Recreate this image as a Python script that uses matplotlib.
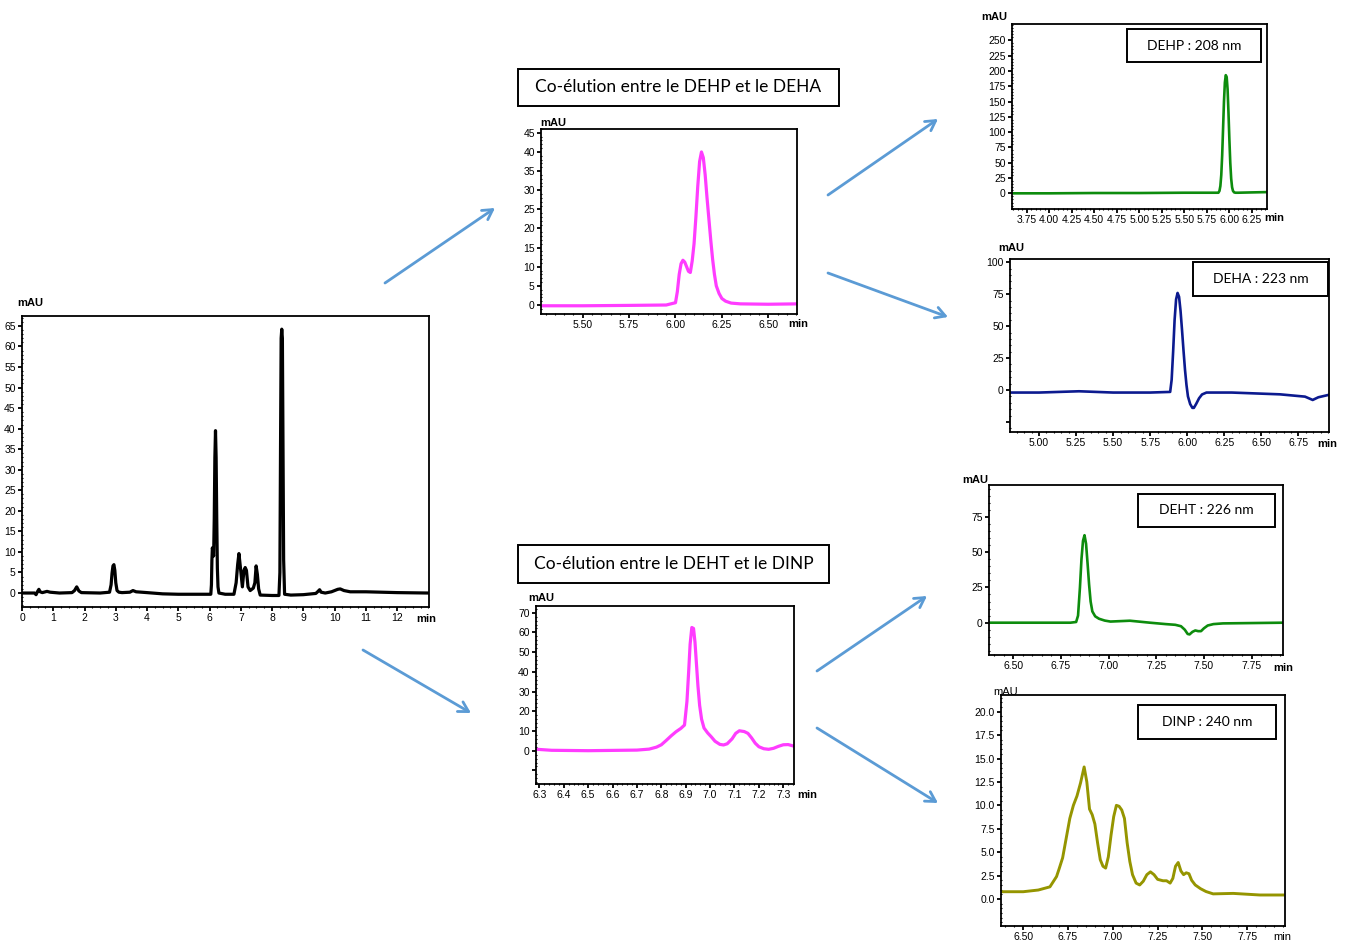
import matplotlib
matplotlib.use("Agg")
import matplotlib.pyplot as plt
from matplotlib.patches import Rectangle, FancyArrowPatch
from matplotlib.ticker import AutoMinorLocator

plt.rcParams["font.family"] = ["Liberation Sans Narrow", "Liberation Sans", "DejaVu Sans"]

# ---- data (time in min, signal in mAU) ----
main_t = [0.00, 0.40, 0.45, 0.50, 0.54, 0.58, 0.65, 0.80, 0.90, 1.20, 1.60, 1.68, 1.75, 1.82, 1.90,
          2.50, 2.80, 2.85, 2.88, 2.91, 2.94, 2.97, 3.00, 3.04, 3.10, 3.20, 3.45, 3.55, 3.65, 4.00,
          4.50, 5.00, 5.50, 6.04, 6.06, 6.075, 6.09, 6.11, 6.13, 6.15, 6.17, 6.19, 6.21, 6.23, 6.25,
          6.27, 6.30, 6.50, 6.78, 6.85, 6.90, 6.94, 6.99, 7.05, 7.10, 7.14, 7.18, 7.23, 7.30, 7.40,
          7.45, 7.49, 7.53, 7.57, 7.62, 8.00, 8.22, 8.25, 8.27, 8.29, 8.31, 8.33, 8.35, 8.37, 8.40,
          8.60, 9.00, 9.40, 9.47, 9.52, 9.57, 9.70, 9.90, 10.10, 10.18, 10.30, 10.50, 11.00, 12.00,
          13.00]
main_v = [0.0, 0.0, -0.4, 0.4, 0.9, 0.3, 0.1, 0.4, 0.2, 0.0, 0.1, 0.6, 1.5, 0.5, 0.1,
          0.0, 0.2, 2.0, 4.8, 6.6, 6.9, 5.5, 2.5, 0.6, 0.2, 0.1, 0.2, 0.6, 0.3, 0.1,
          -0.2, -0.3, -0.3, -0.3, 2.0, 8.0, 11.0, 10.0, 9.0, 18.0, 33.0, 39.5, 33.0, 18.0, 6.0,
          1.5, 0.0, -0.3, -0.3, 2.5, 7.0, 9.6, 6.0, 1.5, 5.5, 6.2, 5.5, 1.5, 0.6, 1.2,
          2.5, 6.6, 4.5, 1.0, -0.5, -0.6, -0.6, 5.0, 35.0, 62.0, 64.2, 62.0, 35.0, 8.0, -0.3,
          -0.5, -0.4, -0.1, 0.4, 0.8, 0.2, 0.0, 0.3, 0.9, 1.0, 0.6, 0.3, 0.3, 0.1,
          0.0]

dehp_deha_t = [5.27, 5.50, 5.75, 5.95, 6.00, 6.01, 6.02, 6.03, 6.04, 6.05, 6.06, 6.07, 6.08, 6.09,
               6.10, 6.11, 6.12, 6.13, 6.14, 6.15, 6.16, 6.17, 6.18, 6.19, 6.20, 6.21, 6.22, 6.235,
               6.25, 6.27, 6.30, 6.35, 6.50, 6.66]
dehp_deha_v = [-0.2, -0.2, -0.1, 0.0, 0.6, 3.5, 8.0, 10.8, 11.7, 11.2, 10.0, 8.8, 8.5, 11.5,
               16.0, 23.0, 31.0, 37.5, 40.0, 38.5, 34.0, 28.0, 22.5, 17.0, 12.0, 8.0, 5.0, 3.0,
               1.7, 1.0, 0.5, 0.3, 0.2, 0.3]

deht_dinp_t = [6.29, 6.35, 6.50, 6.70, 6.75, 6.78, 6.80, 6.82, 6.84, 6.86, 6.88, 6.895, 6.905, 6.912,
               6.918, 6.925, 6.932, 6.938, 6.944, 6.95, 6.957, 6.965, 6.975, 6.99, 7.005, 7.02,
               7.04, 7.055, 7.07, 7.09, 7.105, 7.12, 7.14, 7.155, 7.17, 7.185, 7.20, 7.22, 7.24,
               7.26, 7.28, 7.30, 7.32, 7.341]
deht_dinp_v = [0.7, 0.2, 0.0, 0.3, 0.8, 1.8, 3.0, 5.2, 7.5, 9.6, 11.3, 13.0, 25.0, 40.0,
               54.0, 62.5, 62.0, 55.0, 44.0, 33.0, 23.0, 16.0, 11.5, 9.0, 7.0, 4.8,
               3.2, 2.9, 3.5, 6.0, 8.8, 10.1, 9.7, 8.8, 6.5, 3.8, 2.0, 1.0, 0.7,
               1.2, 2.2, 3.0, 3.1, 2.4]

dehp_t = [3.59, 4.00, 4.50, 5.00, 5.50, 5.88, 5.892, 5.902, 5.912, 5.922, 5.932, 5.942, 5.952,
          5.962, 5.972, 5.982, 5.992, 6.002, 6.012, 6.022, 6.032, 6.042, 6.055, 6.07, 6.10, 6.25,
          6.42]
dehp_v = [0.0, 0.0, 0.5, 0.5, 1.0, 1.0, 4.0, 12.0, 30.0, 62.0, 106.0, 150.0, 181.0,
          193.0, 190.0, 170.0, 132.0, 88.0, 50.0, 24.0, 10.0, 4.0, 1.5, 1.0, 1.0, 1.5,
          2.0]

deha_t = [4.80, 5.00, 5.27, 5.50, 5.75, 5.885, 5.895, 5.905, 5.915, 5.925, 5.935, 5.945, 5.955,
          5.965, 5.975, 5.985, 5.995, 6.005, 6.02, 6.035, 6.045, 6.06, 6.08, 6.10, 6.13, 6.30,
          6.626, 6.795, 6.847, 6.885, 6.952]
deha_v = [-2.0, -2.0, -1.0, -2.0, -2.0, -1.5, 8.0, 30.0, 55.0, 71.0, 76.0, 73.0, 62.0,
          47.0, 31.0, 16.0, 4.0, -5.0, -11.0, -14.0, -14.0, -11.0, -6.5, -3.5, -2.0, -2.0,
          -3.4, -5.2, -7.8, -5.7, -3.9]

deht_t = [6.373, 6.60, 6.80, 6.83, 6.84, 6.85, 6.858, 6.866, 6.874, 6.882, 6.89, 6.898, 6.906,
          6.915, 6.93, 6.95, 6.98, 7.01, 7.112, 7.217, 7.30, 7.35, 7.38, 7.40, 7.415, 7.425,
          7.44, 7.455, 7.47, 7.485, 7.50, 7.52, 7.55, 7.60, 7.915]
deht_v = [0.0, 0.0, 0.0, 0.5, 5.0, 25.0, 45.0, 58.0, 62.0, 56.0, 42.0, 27.0, 15.0,
          8.0, 4.5, 2.8, 1.5, 0.8, 1.4, 0.0, -1.0, -1.5, -2.5, -5.0, -8.0, -8.3,
          -6.5, -5.5, -6.0, -6.0, -4.0, -2.0, -1.0, -0.5, 0.0]

dinp_t = [6.376, 6.50, 6.584, 6.649, 6.686, 6.70, 6.72, 6.74, 6.76, 6.78, 6.80, 6.82, 6.84, 6.855,
          6.87, 6.885, 6.90, 6.915, 6.93, 6.945, 6.96, 6.975, 6.99, 7.005, 7.02, 7.035, 7.05,
          7.065, 7.08, 7.095, 7.11, 7.13, 7.15, 7.17, 7.19, 7.21, 7.23, 7.25, 7.28, 7.30, 7.32,
          7.335, 7.35, 7.365, 7.38, 7.395, 7.41, 7.425, 7.44, 7.46, 7.49, 7.52, 7.56, 7.672,
          7.821, 7.951]
dinp_v = [0.78, 0.78, 0.96, 1.3, 2.4, 3.2, 4.4, 6.5, 8.6, 10.0, 11.0, 12.4, 14.1, 12.5,
          9.6, 9.0, 8.0, 6.0, 4.2, 3.5, 3.3, 4.5, 6.8, 8.8, 10.0, 9.9, 9.5,
          8.6, 6.0, 4.0, 2.6, 1.7, 1.5, 1.9, 2.6, 2.9, 2.6, 2.1, 1.95, 1.95, 1.7,
          2.2, 3.5, 3.9, 3.0, 2.6, 2.8, 2.7, 2.0, 1.5, 1.1, 0.8, 0.55, 0.6,
          0.43, 0.43]

main_xticks = list(range(0, 13))
main_yticks = list(range(0, 70, 5))
dehp_deha_xticks = [5.50, 5.75, 6.00, 6.25, 6.50]
dehp_deha_yticks = list(range(0, 50, 5))
deht_dinp_xticks = [6.3, 6.4, 6.5, 6.6, 6.7, 6.8, 6.9, 7.0, 7.1, 7.2, 7.3]
deht_dinp_yticks = [-10, 0, 10, 20, 30, 40, 50, 60, 70]
dehp_xticks = [3.75, 4.00, 4.25, 4.50, 4.75, 5.00, 5.25, 5.50, 5.75, 6.00, 6.25]
dehp_yticks = list(range(0, 275, 25))
deha_xticks = [5.00, 5.25, 5.50, 5.75, 6.00, 6.25, 6.50, 6.75]
deha_yticks = [-25, 0, 25, 50, 75, 100]
deht_xticks = [6.50, 6.75, 7.00, 7.25, 7.50, 7.75]
deht_yticks = [0, 25, 50, 75]
dinp_xticks = [6.50, 6.75, 7.00, 7.25, 7.50, 7.75]
dinp_yticks = [0.0, 2.5, 5.0, 7.5, 10.0, 12.5, 15.0, 17.5, 20.0]

W, H = 1349, 941
fig = plt.figure(figsize=(W / 100, H / 100), dpi=100)


def fx(x):
    return x / W


def fy(y):
    return 1 - y / H


def panel(box, xlim, ylim, xticks, yticks, xfmt, yfmt, hide_y=()):
    l, t, r, b = box
    ax = fig.add_axes([fx(l), fy(b), (r - l) / W, (b - t) / H])
    ax.set_xlim(*xlim)
    ax.set_ylim(*ylim)
    ax.set_xticks(xticks)
    ax.set_xticklabels([xfmt % v for v in xticks])
    ax.set_yticks(yticks)
    ax.set_yticklabels(["" if v in hide_y else yfmt % v for v in yticks])
    ax.xaxis.set_minor_locator(AutoMinorLocator(5))
    ax.yaxis.set_minor_locator(AutoMinorLocator(5))
    ax.tick_params(which="major", direction="out", length=3, width=1.3, labelsize=7.5, pad=1.5)
    ax.tick_params(which="minor", direction="inout", length=2, width=0.8)
    for s in ax.spines.values():
        s.set_linewidth(1.3)
    return ax


def unit_labels(mau_xy, min_xy, bold=True):
    w = "bold" if bold else "normal"
    fig.text(fx(mau_xy[0]), fy(mau_xy[1]), "mAU", fontsize=8, fontweight=w, ha="left", va="center")
    fig.text(fx(min_xy[0]), fy(min_xy[1]), "min", fontsize=8, fontweight=w, ha="left", va="center")


def boxed(box, text, size):
    l, t, r, b = box
    fig.add_artist(Rectangle((fx(l), fy(b)), (r - l) / W, (b - t) / H, transform=fig.transFigure,
                             fill=False, edgecolor="black", linewidth=1.4))
    fig.text(fx((l + r) / 2), fy((t + b) / 2), text, fontsize=size, family="Lato",
             ha="center", va="center")


# main chromatogram
ax = panel((22, 316, 429, 607), (0, 13.02), (-3.4, 67.4), main_xticks, main_yticks, "%d", "%d")
ax.plot(main_t, main_v, color="black", lw=2.3)
ax.xaxis.set_minor_locator(AutoMinorLocator(4))
unit_labels((17, 303), (416, 619))

# co-elution DEHP / DEHA
ax = panel((541, 129, 797, 314), (5.275, 6.655), (-2.35, 46.0), dehp_deha_xticks, dehp_deha_yticks,
           "%.2f", "%d")
ax.plot(dehp_deha_t, dehp_deha_v, color="#ff3cff", lw=2.3)
unit_labels((540, 123), (788, 324))
boxed((518, 69, 839, 106), "Co-élution entre le DEHP et le DEHA", 12.5)

# co-elution DEHT / DINP
ax = panel((536, 606, 794, 784), (6.286, 7.344), (-16.9, 73.4), deht_dinp_xticks, deht_dinp_yticks,
           "%.1f", "%d", hide_y=(-10,))
ax.plot(deht_dinp_t, deht_dinp_v, color="#ff3cff", lw=2.3)
unit_labels((528, 598), (797, 795))
boxed((518, 545, 829, 583), "Co-élution entre le DEHT et le DINP", 12.5)

# DEHP 208 nm
ax = panel((1012, 24, 1267, 209), (3.587, 6.42), (-25.6, 276.6), dehp_xticks, dehp_yticks, "%.2f", "%d")
ax.plot(dehp_t, dehp_v, color="#0d8c0d", lw=1.9)
unit_labels((981, 17), (1264, 218))
boxed((1127, 29, 1261, 62), "DEHP : 208 nm", 10)

# DEHA 223 nm
ax = panel((1010, 259, 1329, 432), (4.804, 6.957), (-32.9, 102.6), deha_xticks, deha_yticks,
           "%.2f", "%d", hide_y=(-25,))
ax.plot(deha_t, deha_v, color="#0c1a8f", lw=1.9)
unit_labels((998, 248), (1317, 444))
boxed((1193, 262, 1328, 296), "DEHA : 223 nm", 10)

# DEHT 226 nm
ax = panel((989, 485, 1283, 655), (6.373, 7.915), (-22.9, 97.6), deht_xticks, deht_yticks, "%.2f", "%d")
ax.plot(deht_t, deht_v, color="#0d8c0d", lw=1.9)
unit_labels((962, 480), (1273, 668))
boxed((1138, 494, 1275, 527), "DEHT : 226 nm", 10)

# DINP 240 nm
ax = panel((1001, 695, 1285, 926), (6.376, 7.961), (-2.88, 21.78), dinp_xticks, dinp_yticks,
           "%.2f", "%.1f")
ax.plot(dinp_t, dinp_v, color="#959500", lw=2.1)
unit_labels((993, 692), (1273, 937), bold=False)
boxed((1138, 705, 1276, 739), "DINP : 240 nm", 10)

# arrows linking the panels
arrows = [((385, 283), (495, 208)), ((363, 650), (471, 713)),
          ((828, 195), (938, 119)), ((828, 273), (948, 317)),
          ((817, 671), (927, 596)), ((817, 728), (938, 803))]
for (x0, y0), (x1, y1) in arrows:
    fig.add_artist(FancyArrowPatch((fx(x0), fy(y0)), (fx(x1), fy(y1)), transform=fig.transFigure,
                                   arrowstyle="->,head_length=7,head_width=4", color="#5b9bd5",
                                   lw=2, shrinkA=0, shrinkB=0))

fig.savefig("out.png", dpi=100)
